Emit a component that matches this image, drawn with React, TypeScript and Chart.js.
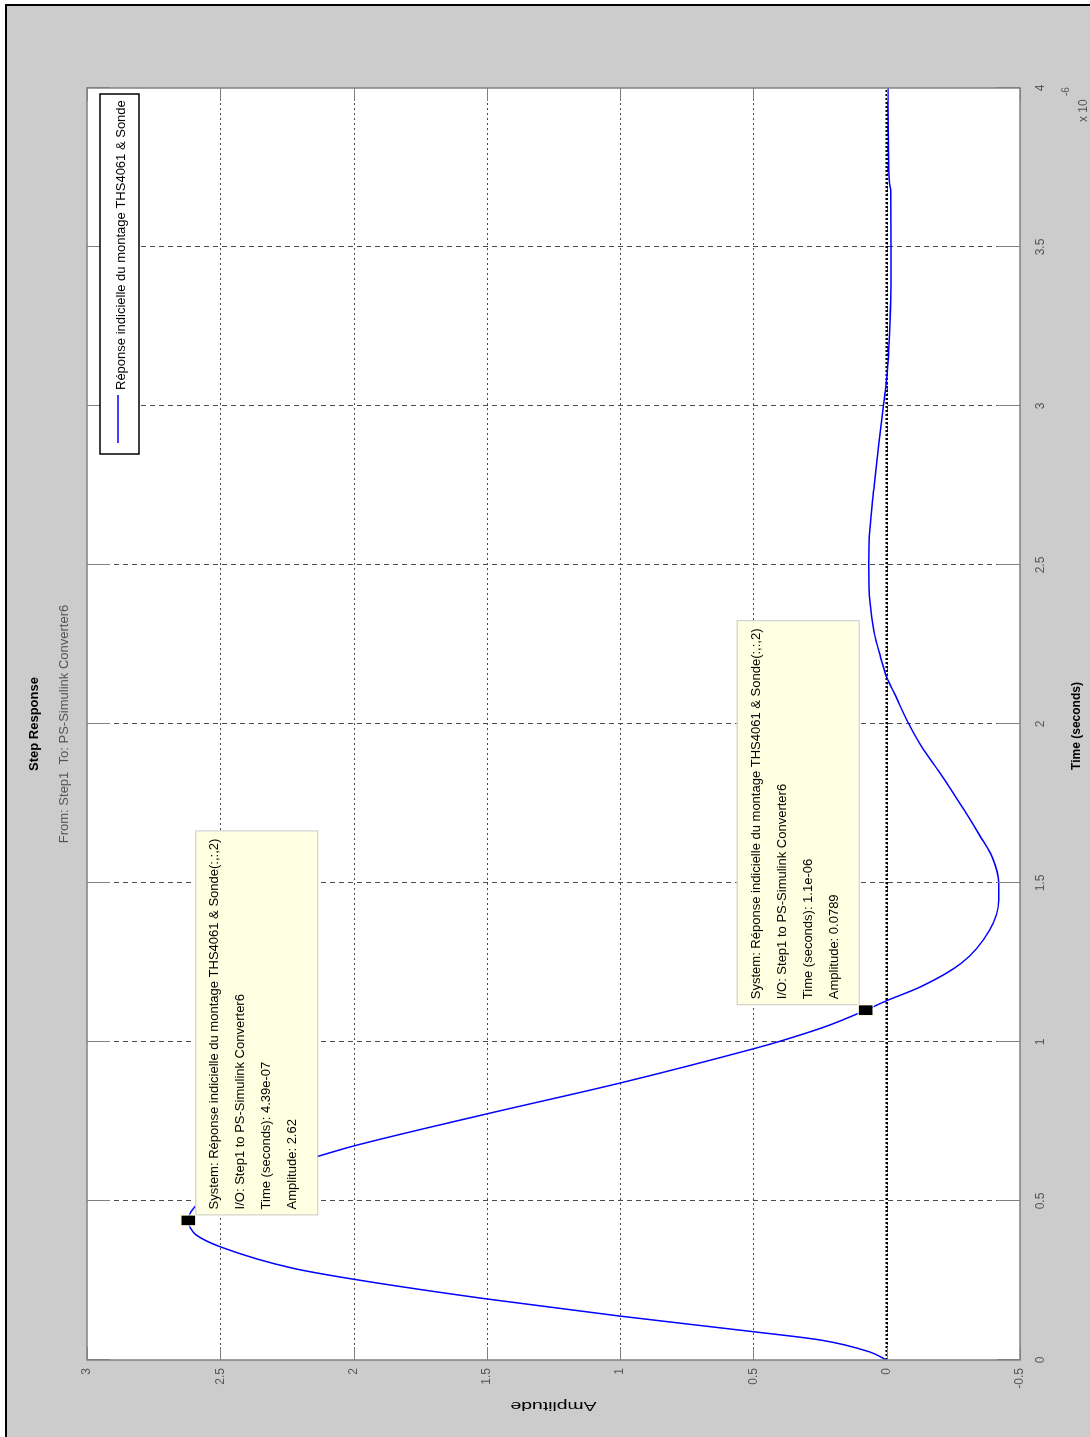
import React, { useEffect, useRef } from "react";
import { Chart, registerables } from "chart.js";

Chart.register(...registerables);

const FONT = "'Liberation Sans', Arial, Helvetica, sans-serif";

// ---- data (time in microseconds, i.e. x 10^-6 s) ----
const timeMicroSec = [
  0, 0.026, 0.063, 0.089, 0.138, 0.192, 0.254, 0.289, 0.356, 0.393,
  0.415, 0.439, 0.466, 0.493, 0.55, 0.6, 0.639, 0.673, 0.774, 0.871,
  0.981, 1.0, 1.05, 1.1, 1.13, 1.174, 1.248, 1.352, 1.446, 1.5,
  1.583, 1.648, 1.73, 1.811, 1.866, 1.93, 2.0, 2.094, 2.147, 2.21,
  2.29, 2.384, 2.5, 2.616, 2.74, 2.88, 3.01, 3.086, 3.18, 3.336,
  3.5, 3.68, 3.7, 4.0,
];
const amplitudeValues = [
  0, 0.066, 0.25, 0.5, 1.0, 1.5, 2.0, 2.23, 2.5, 2.59,
  2.612, 2.62, 2.61, 2.58, 2.47, 2.3, 2.14, 2.0, 1.5, 1.0,
  0.49, 0.41, 0.225, 0.0789, 0, -0.128, -0.28, -0.386, -0.42, -0.42,
  -0.395, -0.35, -0.29, -0.228, -0.183, -0.13, -0.083, -0.03, 0, 0.023,
  0.048, 0.063, 0.067, 0.063, 0.048, 0.03, 0.011, 0, -0.008, -0.015,
  -0.016, -0.015, -0.01, -0.005,
];
const zeroLineTime = [0, 4];
const zeroLineAmp = [0, 0];
const timeTicks = [0, 0.5, 1, 1.5, 2, 2.5, 3, 3.5, 4];
const amplitudeTicks = [-0.5, 0, 0.5, 1, 1.5, 2, 2.5, 3];
const seriesLabel = "Réponse indicielle du montage THS4061 & Sonde";
const titleText = "Step Response";
const subtitleText = "From: Step1  To: PS-Simulink Converter6";
const xTitleText = "Time (seconds)";
const yTitleText = "Amplitude";
const tipTimes = [0.439, 1.1];
const tipAmplitudes = [2.62, 0.0789];
const tipTimeText = ["4.39e-07", "1.1e-06"];
const tipAmpText = ["2.62", "0.0789"];
const tipBelow = [true, false];

const CW = 1437;
const CH = 1090;

const fmt = (v: number) => String(Math.round(v * 10) / 10);

const matlabPlugin = {
  id: "matlabDecor",
  beforeDatasetsDraw(chart: any) {
    const { ctx, chartArea: a, scales } = chart;
    const xs = scales.x;
    const ys = scales.y;
    ctx.save();
    ctx.fillStyle = "#ffffff";
    ctx.fillRect(a.left, a.top, a.right - a.left, a.bottom - a.top);
    ctx.strokeStyle = "#4a4a4a";
    ctx.lineWidth = 1;
    ctx.setLineDash([5, 4]);
    for (const t of timeTicks.slice(1, -1)) {
      const px = Math.round(xs.getPixelForValue(t)) + 0.5;
      ctx.beginPath();
      ctx.moveTo(px, a.top);
      ctx.lineTo(px, a.bottom);
      ctx.stroke();
    }
    ctx.setLineDash([2, 3]);
    for (const v of amplitudeTicks.slice(1, -1)) {
      const py = Math.round(ys.getPixelForValue(v)) + 0.5;
      ctx.beginPath();
      ctx.moveTo(a.left, py);
      ctx.lineTo(a.right, py);
      ctx.stroke();
    }
    ctx.restore();
  },
  afterDatasetsDraw(chart: any) {
    const { ctx, chartArea: a, scales } = chart;
    const xs = scales.x;
    const ys = scales.y;
    ctx.save();
    ctx.setLineDash([]);

    // inside ticks
    ctx.strokeStyle = "#808080";
    ctx.lineWidth = 1;
    for (const t of timeTicks) {
      const px = Math.round(xs.getPixelForValue(t)) + 0.5;
      ctx.beginPath();
      ctx.moveTo(px, a.top);
      ctx.lineTo(px, a.top + 23);
      ctx.moveTo(px, a.bottom);
      ctx.lineTo(px, a.bottom - 23);
      ctx.stroke();
    }
    for (const v of amplitudeTicks) {
      const py = Math.round(ys.getPixelForValue(v)) + 0.5;
      ctx.beginPath();
      ctx.moveTo(a.left, py);
      ctx.lineTo(a.left + 13, py);
      ctx.moveTo(a.right, py);
      ctx.lineTo(a.right - 13, py);
      ctx.stroke();
    }
    // axes box
    ctx.lineWidth = 1.5;
    ctx.strokeRect(a.left, a.top, a.right - a.left, a.bottom - a.top);

    // legend
    const lw = 360;
    const lh = 39;
    const lx = a.right - 6 - lw;
    const ly = a.top + 13;
    ctx.fillStyle = "#ffffff";
    ctx.fillRect(lx, ly, lw, lh);
    ctx.strokeStyle = "#000000";
    ctx.lineWidth = 1.5;
    ctx.strokeRect(lx, ly, lw, lh);
    ctx.strokeStyle = "#0000ff";
    ctx.lineWidth = 1.5;
    ctx.beginPath();
    ctx.moveTo(lx + 11, ly + 18);
    ctx.lineTo(lx + 59, ly + 18);
    ctx.stroke();
    ctx.fillStyle = "#000000";
    ctx.font = `13px ${FONT}`;
    ctx.textAlign = "left";
    ctx.textBaseline = "alphabetic";
    ctx.fillText(seriesLabel, lx + 64, ly + 25);

    // data tips
    for (let i = 0; i < tipTimes.length; i++) {
      const mx = xs.getPixelForValue(tipTimes[i]);
      const my = ys.getPixelForValue(tipAmplitudes[i]);
      const bw = 384;
      const bh = 122;
      const bx = mx + 5;
      const by = tipBelow[i] ? my + 7 : my - 7 - bh;
      ctx.fillStyle = "#ffffe1";
      ctx.fillRect(bx, by, bw, bh);
      ctx.strokeStyle = "#c8c8c8";
      ctx.lineWidth = 1;
      ctx.strokeRect(bx + 0.5, by + 0.5, bw, bh);
      const lines = [
        `System: ${seriesLabel}(:,:,2)`,
        "I/O: Step1 to PS-Simulink Converter6",
        `Time (seconds): ${tipTimeText[i]}`,
        `Amplitude: ${tipAmpText[i]}`,
      ];
      ctx.fillStyle = "#000000";
      ctx.font = `13px ${FONT}`;
      lines.forEach((ln, k) => ctx.fillText(ln, bx + 6, by + 23 + k * 26));
      // marker
      ctx.fillStyle = "#000000";
      ctx.fillRect(mx - 5, my - 7, 10, 14);
      ctx.strokeStyle = "#ffffe1";
      ctx.strokeRect(mx - 5.5, my - 7.5, 11, 15);
    }

    // titles
    const cx = (a.left + a.right) / 2;
    ctx.textAlign = "center";
    ctx.fillStyle = "#000000";
    ctx.font = `bold 13px ${FONT}`;
    ctx.fillText(titleText, cx, 38);
    ctx.fillStyle = "#555555";
    ctx.font = `13px ${FONT}`;
    ctx.fillText(subtitleText, cx, 68);
    ctx.fillStyle = "#000000";
    ctx.font = `bold 12px ${FONT}`;
    ctx.fillText(xTitleText, cx - 2, a.bottom + 60);

    // exponent
    ctx.textAlign = "left";
    ctx.fillStyle = "#555555";
    ctx.font = `12px ${FONT}`;
    ctx.fillText("x 10", a.right - 34, a.bottom + 67);
    ctx.font = `10px ${FONT}`;
    ctx.fillText("-6", a.right - 8, a.bottom + 49);

    // y title (stretched)
    ctx.save();
    ctx.translate(35, (a.top + a.bottom) / 2);
    ctx.rotate(-Math.PI / 2);
    ctx.font = `12px ${FONT}`;
    const w = ctx.measureText(yTitleText).width;
    ctx.scale(86 / w, 1);
    ctx.textAlign = "center";
    ctx.fillStyle = "#000000";
    ctx.fillText(yTitleText, 0, 0);
    ctx.restore();

    ctx.restore();
  },
};

export default function App() {
  const ref = useRef<HTMLCanvasElement>(null);

  useEffect(() => {
    if (!ref.current) return;
    const chart = new Chart(ref.current, {
      type: "line",
      data: {
        datasets: [
          {
            label: seriesLabel,
            data: timeMicroSec.map((t, i) => ({ x: t, y: amplitudeValues[i] })),
            borderColor: "#0000ff",
            borderWidth: 1.5,
            pointRadius: 0,
            cubicInterpolationMode: "monotone",
            fill: false,
          },
          {
            label: "zero",
            data: zeroLineTime.map((t, i) => ({ x: t, y: zeroLineAmp[i] })),
            borderColor: "#000000",
            borderWidth: 2.5,
            borderDash: [2, 2],
            pointRadius: 0,
            fill: false,
          },
        ],
      },
      options: {
        animation: false,
        responsive: false,
        events: [],
        layout: { padding: { top: 87, right: 88, left: 0, bottom: 0 } },
        plugins: {
          legend: { display: false },
          title: { display: false },
          tooltip: { enabled: false },
        },
        scales: {
          x: {
            type: "linear",
            min: 0,
            max: 4,
            afterFit: (s: any) => {
              s.height = 70;
            },
            grid: { display: false, drawTicks: false },
            border: { display: false },
            ticks: {
              stepSize: 0.5,
              autoSkip: false,
              maxRotation: 0,
              padding: 13,
              color: "#555555",
              font: { size: 12, family: FONT },
              callback: (v: any) => fmt(Number(v)),
            },
          },
          y: {
            type: "linear",
            min: -0.5,
            max: 3,
            afterFit: (s: any) => {
              s.width = 77;
            },
            grid: { display: false, drawTicks: false },
            border: { display: false },
            ticks: {
              stepSize: 0.5,
              autoSkip: false,
              padding: 8,
              color: "#555555",
              font: { size: 12, family: FONT },
              callback: (v: any) => fmt(Number(v)),
            },
          },
        },
      } as any,
      plugins: [matlabPlugin],
    });
    return () => chart.destroy();
  }, []);

  return (
    <div
      style={{
        position: "absolute",
        left: 0,
        top: 0,
        width: 1090,
        height: 1437,
        overflow: "hidden",
        background: "#ffffff",
      }}
    >
      <div
        style={{
          position: "absolute",
          left: 5,
          top: 4,
          right: 0,
          bottom: 0,
          borderLeft: "2px solid #000",
          borderTop: "2px solid #000",
          background: "#cccccc",
        }}
      />
      <div
        style={{
          position: "absolute",
          left: 0,
          top: 0,
          width: CW,
          height: CH,
          transformOrigin: "0 0",
          transform: `translateY(${CW}px) rotate(-90deg)`,
        }}
      >
        <canvas
          ref={ref}
          width={CW}
          height={CH}
          style={{ display: "block", width: CW, height: CH }}
        />
      </div>
    </div>
  );
}
